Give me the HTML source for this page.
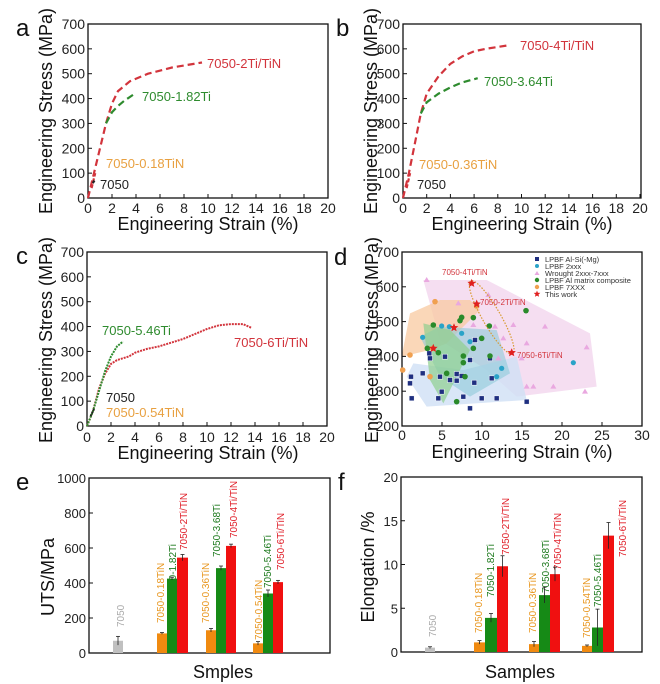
<!DOCTYPE html>
<html><head><meta charset="utf-8"><style>
html,body{margin:0;padding:0;background:#fff;}
svg{display:block;font-family:"Liberation Sans",Arial,sans-serif;}
</style></head><body>
<svg id="s" width="660" height="684" viewBox="0 0 660 684" xmlns="http://www.w3.org/2000/svg">
<rect width="660" height="684" fill="#fff"/>
<g id="bg"></g>
<!-- panel letters -->
<g font-size="24" fill="#111">
<text x="16" y="36">a</text><text x="336" y="36">b</text>
<text x="16" y="264">c</text><text x="334" y="265">d</text>
<text x="16" y="490">e</text><text x="338" y="490">f</text>
</g>
<!-- axis titles -->
<g font-size="18" fill="#111" text-anchor="middle">
<text transform="translate(52,111) rotate(-90)">Engineering Stress (MPa)</text>
<text transform="translate(377,111) rotate(-90)">Engineering Stress (MPa)</text>
<text transform="translate(52,340) rotate(-90)">Engineering Stress (MPa)</text>
<text transform="translate(378,340) rotate(-90)">Engineering Stress (MPa)</text>
<text x="208" y="230">Engineering Strain (%)</text>
<text x="522" y="230">Engineering Strain (%)</text>
<text x="208" y="459">Engineering Strain (%)</text>
<text x="522" y="458">Engineering Strain (%)</text>
<text transform="translate(54,577) rotate(-90)">UTS/MPa</text>
<text transform="translate(374,567) rotate(-90)">Elongation /%</text>
<text x="223" y="678">Smples</text>
<text x="520" y="678">Samples</text>
</g>
<!-- curve labels -->
<g font-size="13">
<text x="207" y="68" fill="#d2343c">7050-2Ti/TiN</text>
<text x="142" y="101" fill="#2e8b2e">7050-1.82Ti</text>
<text x="106" y="168" fill="#e8a040">7050-0.18TiN</text>
<text x="100" y="189" fill="#222">7050</text>
<text x="520" y="50" fill="#d2343c">7050-4Ti/TiN</text>
<text x="484" y="86" fill="#2e8b2e">7050-3.64Ti</text>
<text x="419" y="169" fill="#e8a040">7050-0.36TiN</text>
<text x="417" y="189" fill="#222">7050</text>
<text x="102" y="335" fill="#2e8b2e">7050-5.46Ti</text>
<text x="234" y="347" fill="#d2343c">7050-6Ti/TiN</text>
<text x="106" y="402" fill="#222">7050</text>
<text x="106" y="417" fill="#e8a040">7050-0.54TiN</text>
</g>
<g font-size="8" fill="#d2343c">
<text x="442" y="275">7050-4Ti/TiN</text>
<text x="480" y="305">7050-2Ti/TiN</text>
<text x="517" y="358">7050-6Ti/TiN</text>
</g>
<g font-size="7.5" fill="#333">
<text x="545" y="262">LPBF Al-Si(-Mg)</text>
<text x="545" y="269">LPBF 2xxx</text>
<text x="545" y="276">Wrought 2xxx-7xxx</text>
<text x="545" y="283">LPBF Al matrix composite</text>
<text x="545" y="290">LPBF 7XXX</text>
<text x="545" y="297">This work</text>
</g>
<!-- bar labels -->
<g font-size="10">
<text transform="translate(124,627) rotate(-90)" fill="#aaa">7050</text>
<text transform="translate(164,623) rotate(-90)" fill="#e8961e">7050-0.18TiN</text>
<text transform="translate(176,597) rotate(-90)" fill="#1e7a1e">7050-1.82Ti</text>
<text transform="translate(187,550) rotate(-90)" fill="#e0202a">7050-2Ti/TiN</text>
<text transform="translate(209,623) rotate(-90)" fill="#e8961e">7050-0.36TiN</text>
<text transform="translate(220,557) rotate(-90)" fill="#1e7a1e">7050-3.68Ti</text>
<text transform="translate(237,538) rotate(-90)" fill="#e0202a">7050-4Ti/TiN</text>
<text transform="translate(262,640) rotate(-90)" fill="#e8961e">7050-0.54TiN</text>
<text transform="translate(271,588) rotate(-90)" fill="#1e7a1e">7050-5.46Ti</text>
<text transform="translate(284,570) rotate(-90)" fill="#e0202a">7050-6Ti/TiN</text>
<text transform="translate(436,637) rotate(-90)" fill="#aaa">7050</text>
<text transform="translate(482,633) rotate(-90)" fill="#e8961e">7050-0.18TiN</text>
<text transform="translate(494,597) rotate(-90)" fill="#1e7a1e">7050-1.82Ti</text>
<text transform="translate(509,555) rotate(-90)" fill="#e0202a">7050-2Ti/TiN</text>
<text transform="translate(536,633) rotate(-90)" fill="#e8961e">7050-0.36TiN</text>
<text transform="translate(549,593) rotate(-90)" fill="#1e7a1e">7050-3.68Ti</text>
<text transform="translate(561,570) rotate(-90)" fill="#e0202a">7050-4Ti/TiN</text>
<text transform="translate(590,638) rotate(-90)" fill="#e8961e">7050-0.54TiN</text>
<text transform="translate(601,607) rotate(-90)" fill="#1e7a1e">7050-5.46Ti</text>
<text transform="translate(626,557) rotate(-90)" fill="#e0202a">7050-6Ti/TiN</text>
</g>
<g id="fg"></g>
</svg>
<script>
var NS="http://www.w3.org/2000/svg";
var bg=document.getElementById('bg'),fg=document.getElementById('fg');
function el(p,t,a,txt){var e=document.createElementNS(NS,t);for(var k in a)e.setAttribute(k,a[k]);if(txt!==undefined)e.textContent=txt;p.appendChild(e);return e;}
// axes helper
function axes(L,T,R,B,xt,yt){
 el(fg,'rect',{x:L,y:T,width:R-L,height:B-T,fill:'none',stroke:'#111','stroke-width':1.3});
 xt.forEach(function(t){el(fg,'line',{x1:t[0],x2:t[0],y1:B,y2:B-4,stroke:'#111'});
  el(fg,'text',{x:t[0],y:t[2],'font-size':t[3]||14,'text-anchor':'middle',fill:'#222'},t[1]);});
 yt.forEach(function(t){el(fg,'line',{x1:L,x2:L+4,y1:t[0],y2:t[0],stroke:'#111'});
  el(fg,'text',{x:L-3,y:t[0]+5,'font-size':t[2]||14,'text-anchor':'end',fill:'#222'},t[1]);});
}
function xs(x0,dx,n,step,base){var r=[];for(var k=0;k<=n;k++)r.push([x0+dx*k,String(k*step),base]);return r;}
function ys(y0,dy,n,step,off,fs){var r=[];for(var k=0;k<=n;k++)r.push([y0-dy*k,String(off+k*step),fs]);return r;}
// panel a,b,c stress-strain
axes(88,24,328,198,xs(88,24,10,2,213),ys(198,24.86,7,100,0));
axes(403,24,641,198,xs(403,23.7,10,2,213),ys(198,24.86,7,100,0));
axes(87,252,327,426,xs(87,24,10,2,442),ys(426,24.86,7,100,0));
function curve(X0,Y0,sx,pts,col,dash,w){var s=pts.map(function(p){return (X0+sx*p[0]).toFixed(1)+','+(Y0-0.2486*p[1]).toFixed(1)}).join(' ');
 el(fg,'polyline',{points:s,fill:'none',stroke:col,'stroke-width':w||2.2,'stroke-dasharray':dash});}
curve(88,198,12,[[0,0],[0.5,100],[1,200],[1.5,300],[2,380],[2.5,430],[3.5,470],[5,500],[7,525],[9.5,545]],'#d2343c','7,4');
curve(88,198,12,[[1.5,300],[2,345],[2.5,370],[3,390],[3.9,420]],'#2e8b2e','7,4');
curve(88,198,12,[[0.3,40],[0.6,100]],'#d2343c','4,2');
curve(88,198,12,[[0.4,60],[0.6,75]],'#222','3,2');
curve(403,198,11.85,[[0,0],[0.5,100],[1,220],[1.5,340],[2,420],[3,490],[4,540],[5,570],[6,590],[7,600],[9,615]],'#d2343c','7,4');
curve(403,198,11.85,[[1.5,340],[2,385],[3,420],[4,445],[5,465],[6.3,482]],'#2e8b2e','7,4');
curve(403,198,11.85,[[0.3,40],[0.6,100]],'#d2343c','4,2');
curve(87,426,12,[[0,0],[0.5,60],[1,150],[1.5,210],[2,250],[2.5,265],[3.5,280],[4,295],[5,310],[6,320],[7,335],[8,350],[9,370],[10,390],[11,405],[12,410],[13,410],[13.7,395]],'#d2343c','2,1',2);
curve(87,426,12,[[0,0],[0.5,60],[1,140],[1.5,220],[2,280],[2.5,320],[3,340]],'#2e8b2e','2,1',2);
curve(87,426,12,[[0.3,40],[0.6,70]],'#222','2,1',2);
// panel d
function Z(zx,zy){return [330+zx/3,230+zy/3];}
function poly(arr,col,op){el(bg,'polygon',{points:arr.map(function(p){var q=Z(p[0],p[1]);return q[0]+','+q[1]}).join(' '),fill:col,opacity:op});}
poly([[280,150],[470,150],[780,310],[800,470],[560,500],[470,420],[330,330]],'#f3d6ee',0.8);
poly([[230,440],[250,400],[400,420],[560,380],[590,510],[290,530]],'#cfe0f5',0.8);
poly([[215,380],[240,250],[330,210],[420,210],[450,240],[350,340],[300,360]],'#f8c9a0',0.75);
poly([[270,320],[330,290],[500,300],[540,430],[420,500],[330,440]],'#8ec9d8',0.6);
poly([[280,280],[360,300],[420,360],[340,520],[300,450]],'#8fce8f',0.7);
axes(402,252,642,426,xs(402,40,6,5,440),ys(426,34.8,5,100,200));
function mk(list,f){list.forEach(function(p){var q=Z(p[0],p[1]);f(q[0],q[1]);});}
mk([[243,440],[245,505],[240,460],[278,430],[300,385],[298,370],[330,440],[325,505],[335,485],[345,380],[380,432],[380,452],[395,438],[400,500],[420,390],[420,535],[435,330],[433,458],[455,505],[480,385],[485,445],[500,505],[590,515],[360,450]],function(x,y){el(fg,'rect',{x:x-2.5,y:y-2.5,width:5,height:5,fill:'#1f2f80',stroke:'#fff','stroke-width':0.5});});
mk([[278,322],[335,288],[358,290],[395,310],[500,440],[515,415],[730,398],[420,335]],function(x,y){el(fg,'circle',{cx:x,cy:y,r:2.6,fill:'#2aa3c8'});});
mk([[290,150],[385,220],[475,195],[430,285],[495,290],[550,285],[590,340],[575,385],[610,470],[670,470],[765,485],[645,290],[770,352],[505,385],[590,470],[520,325]],function(x,y){el(fg,'path',{d:'M'+x+','+(y-3)+'l3,5h-6z',fill:'#e9a8e0'});});
mk([[310,285],[292,355],[325,368],[390,272],[395,262],[430,263],[478,288],[455,325],[480,378],[430,355],[400,378],[405,440],[380,515],[588,242],[350,430],[400,398]],function(x,y){el(fg,'circle',{cx:x,cy:y,r:2.8,fill:'#2a8a2a'});});
mk([[315,215],[240,375],[218,420],[308,355],[440,228],[300,440]],function(x,y){el(fg,'circle',{cx:x,cy:y,r:2.8,fill:'#f0a050'});});
var q1=Z(485,262);el(fg,'ellipse',{cx:q1[0],cy:q1[1],rx:42,ry:9,transform:'rotate(60 '+q1[0]+' '+q1[1]+')',fill:'none',stroke:'#d89a30','stroke-dasharray':'1.5,1.5','stroke-width':1.2});
function star(x,y,r,c){var s='';for(var i=0;i<10;i++){var a=-Math.PI/2+i*Math.PI/5,rr=i%2?r*0.45:r;s+=(x+rr*Math.cos(a)).toFixed(1)+','+(y+rr*Math.sin(a)).toFixed(1)+' ';}el(fg,'polygon',{points:s,fill:c});}
mk([[425,160],[440,222],[545,368],[372,293],[310,355]],function(x,y){star(x,y,4.5,'#e02020');});
// legend markers
el(fg,'rect',{x:535,y:257,width:4,height:4,fill:'#1f2f80'});
el(fg,'circle',{cx:537,cy:266,r:2,fill:'#2aa3c8'});
el(fg,'path',{d:'M537,271l2.5,4h-5z',fill:'#e9a8e0'});
el(fg,'circle',{cx:537,cy:280,r:2.2,fill:'#2a8a2a'});
el(fg,'circle',{cx:537,cy:287,r:2.2,fill:'#f0a050'});
star(537,294,3.5,'#e02020');
// panel e
axes(89,478,330,653,[],ys(653,35,5,200,0,13));
axes(401,477,642,652,[],ys(652,43.75,4,5,0,13));
function bar(x1,x2,Y0,sc,v,e,c){var y=Y0-v*sc;el(fg,'rect',{x:x1,y:y,width:x2-x1,height:Y0-y,fill:c});
 el(fg,'line',{x1:(x1+x2)/2,x2:(x1+x2)/2,y1:y-e*sc,y2:y+e*sc,stroke:'#222','stroke-width':0.8});
 el(fg,'line',{x1:(x1+x2)/2-2,x2:(x1+x2)/2+2,y1:y-e*sc,y2:y-e*sc,stroke:'#222','stroke-width':0.8});}
var O='#f08a10',G='#168a16',R='#f01010',Gy='#c0c0c0';
var sE=0.175;
bar(113,123,653,sE,70,25,Gy);
bar(157,167,653,sE,112,5,O);bar(167,177,653,sE,425,8,G);bar(177,188,653,sE,545,18,R);
bar(206,216,653,sE,130,10,O);bar(216,226,653,sE,485,12,G);bar(226,236,653,sE,612,10,R);
bar(253,263,653,sE,55,10,O);bar(263,273,653,sE,340,20,G);bar(273,283,653,sE,405,10,R);
var sF=8.75;
bar(425,435,652,sF,0.5,0.1,Gy);
bar(474,485,652,sF,1.1,0.2,O);bar(485,497,652,sF,3.9,0.5,G);bar(497,508,652,sF,9.8,1.2,R);
bar(529,539,652,sF,0.9,0.3,O);bar(539,550,652,sF,6.5,0.9,G);bar(550,560,652,sF,8.9,0.8,R);
bar(582,592,652,sF,0.7,0.1,O);bar(592,603,652,sF,2.8,2.1,G);bar(603,614,652,sF,13.3,1.5,R);
</script>
</body></html>
